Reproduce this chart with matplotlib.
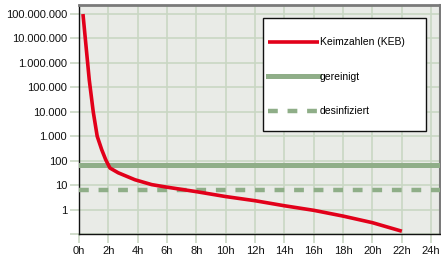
import numpy as np
import matplotlib.pyplot as plt
from matplotlib.ticker import FixedLocator
from matplotlib.patches import Rectangle

# Keimzahlen (KEB) über die Zeit
hours = [0.27, 0.70, 0.97, 1.24, 1.55, 1.82, 2.11, 2.67, 3.81, 4.95, 5.85, 8.0, 10.0, 12.0,
         14.0, 16.0, 18.0, 20.0, 22.0]
keb = [1e8, 2.0e5, 1e4, 1000, 280, 110, 50, 32, 16.6, 10.5, 8.5, 5.4, 3.4, 2.3,
       1.43, 0.93, 0.54, 0.29, 0.13]

gereinigt = 64
desinfiziert = 6.1

x_ticks = list(range(0, 25, 2))
x_labels = [f"{h}h" for h in x_ticks]
y_ticks = [0.1, 1, 10, 100, 1000, 1e4, 1e5, 1e6, 1e7, 1e8]
y_labels = ["", "1", "10", "100", "1.000", "10.000", "100.000", "1.000.000",
            "10.000.000", "100.000.000"]

plt.rcParams['font.family'] = ['Liberation Sans', 'DejaVu Sans']

W, H = 441, 260
fig = plt.figure(figsize=(W / 100, H / 100), dpi=100)
ax = fig.add_axes([79 / W, 26 / H, 361 / W, 229 / H])
ax.set_facecolor("#e9ebe7")

ax.plot(hours, keb, color="#e2001a", lw=2.6, solid_capstyle="butt", solid_joinstyle="round",
        label="Keimzahlen (KEB)", zorder=4)
ax.axhline(gereinigt, color="#8fae88", lw=3.6, label="gereinigt", zorder=3)
ax.axhline(desinfiziert, color="#8fae88", lw=3.2, ls=(0, (2.2, 2.2)), label="desinfiziert", zorder=3)

ax.set_yscale("log")
ax.set_xlim(0, 24.6)
ax.set_ylim(0.1, 10 ** 8.37)
ax.yaxis.set_major_locator(FixedLocator(y_ticks))
ax.yaxis.set_minor_locator(FixedLocator([]))
ax.set_yticklabels(y_labels)
ax.set_xticks(x_ticks)
ax.set_xticklabels(x_labels)

grid_c = "#c9d7c3"
ax.grid(True, color=grid_c, lw=1.2, zorder=1)
ax.set_axisbelow(True)
ax.tick_params(axis="both", color=grid_c, width=1.2, length=6.5, labelsize=8,
               labelcolor="#111111", pad=2)

for s in ["left", "bottom"]:
    ax.spines[s].set_color("#111111")
    ax.spines[s].set_linewidth(1.0)
ax.spines["top"].set_color("#7a7a7a")
ax.spines["top"].set_linewidth(2.0)
ax.spines["right"].set_color("#7a7a7a")
ax.spines["right"].set_linewidth(1.5)

# Legendenrahmen
box = Rectangle((263 / W, 1 - 131 / H), (426 - 263) / W, (131 - 18) / H, transform=fig.transFigure,
                facecolor="white", edgecolor="#111111", lw=1.0, zorder=5, clip_on=False)
ax.add_patch(box)

leg = ax.legend(loc="upper left", bbox_to_anchor=(268 / W, 1 - 37.5 / H), bbox_transform=fig.transFigure,
                fontsize=7.5, frameon=False, handlelength=4.9, handletextpad=0.1,
                labelspacing=2.35, borderpad=0, borderaxespad=0)
leg.set_zorder(6)

fig.savefig("out.png", dpi=100)
